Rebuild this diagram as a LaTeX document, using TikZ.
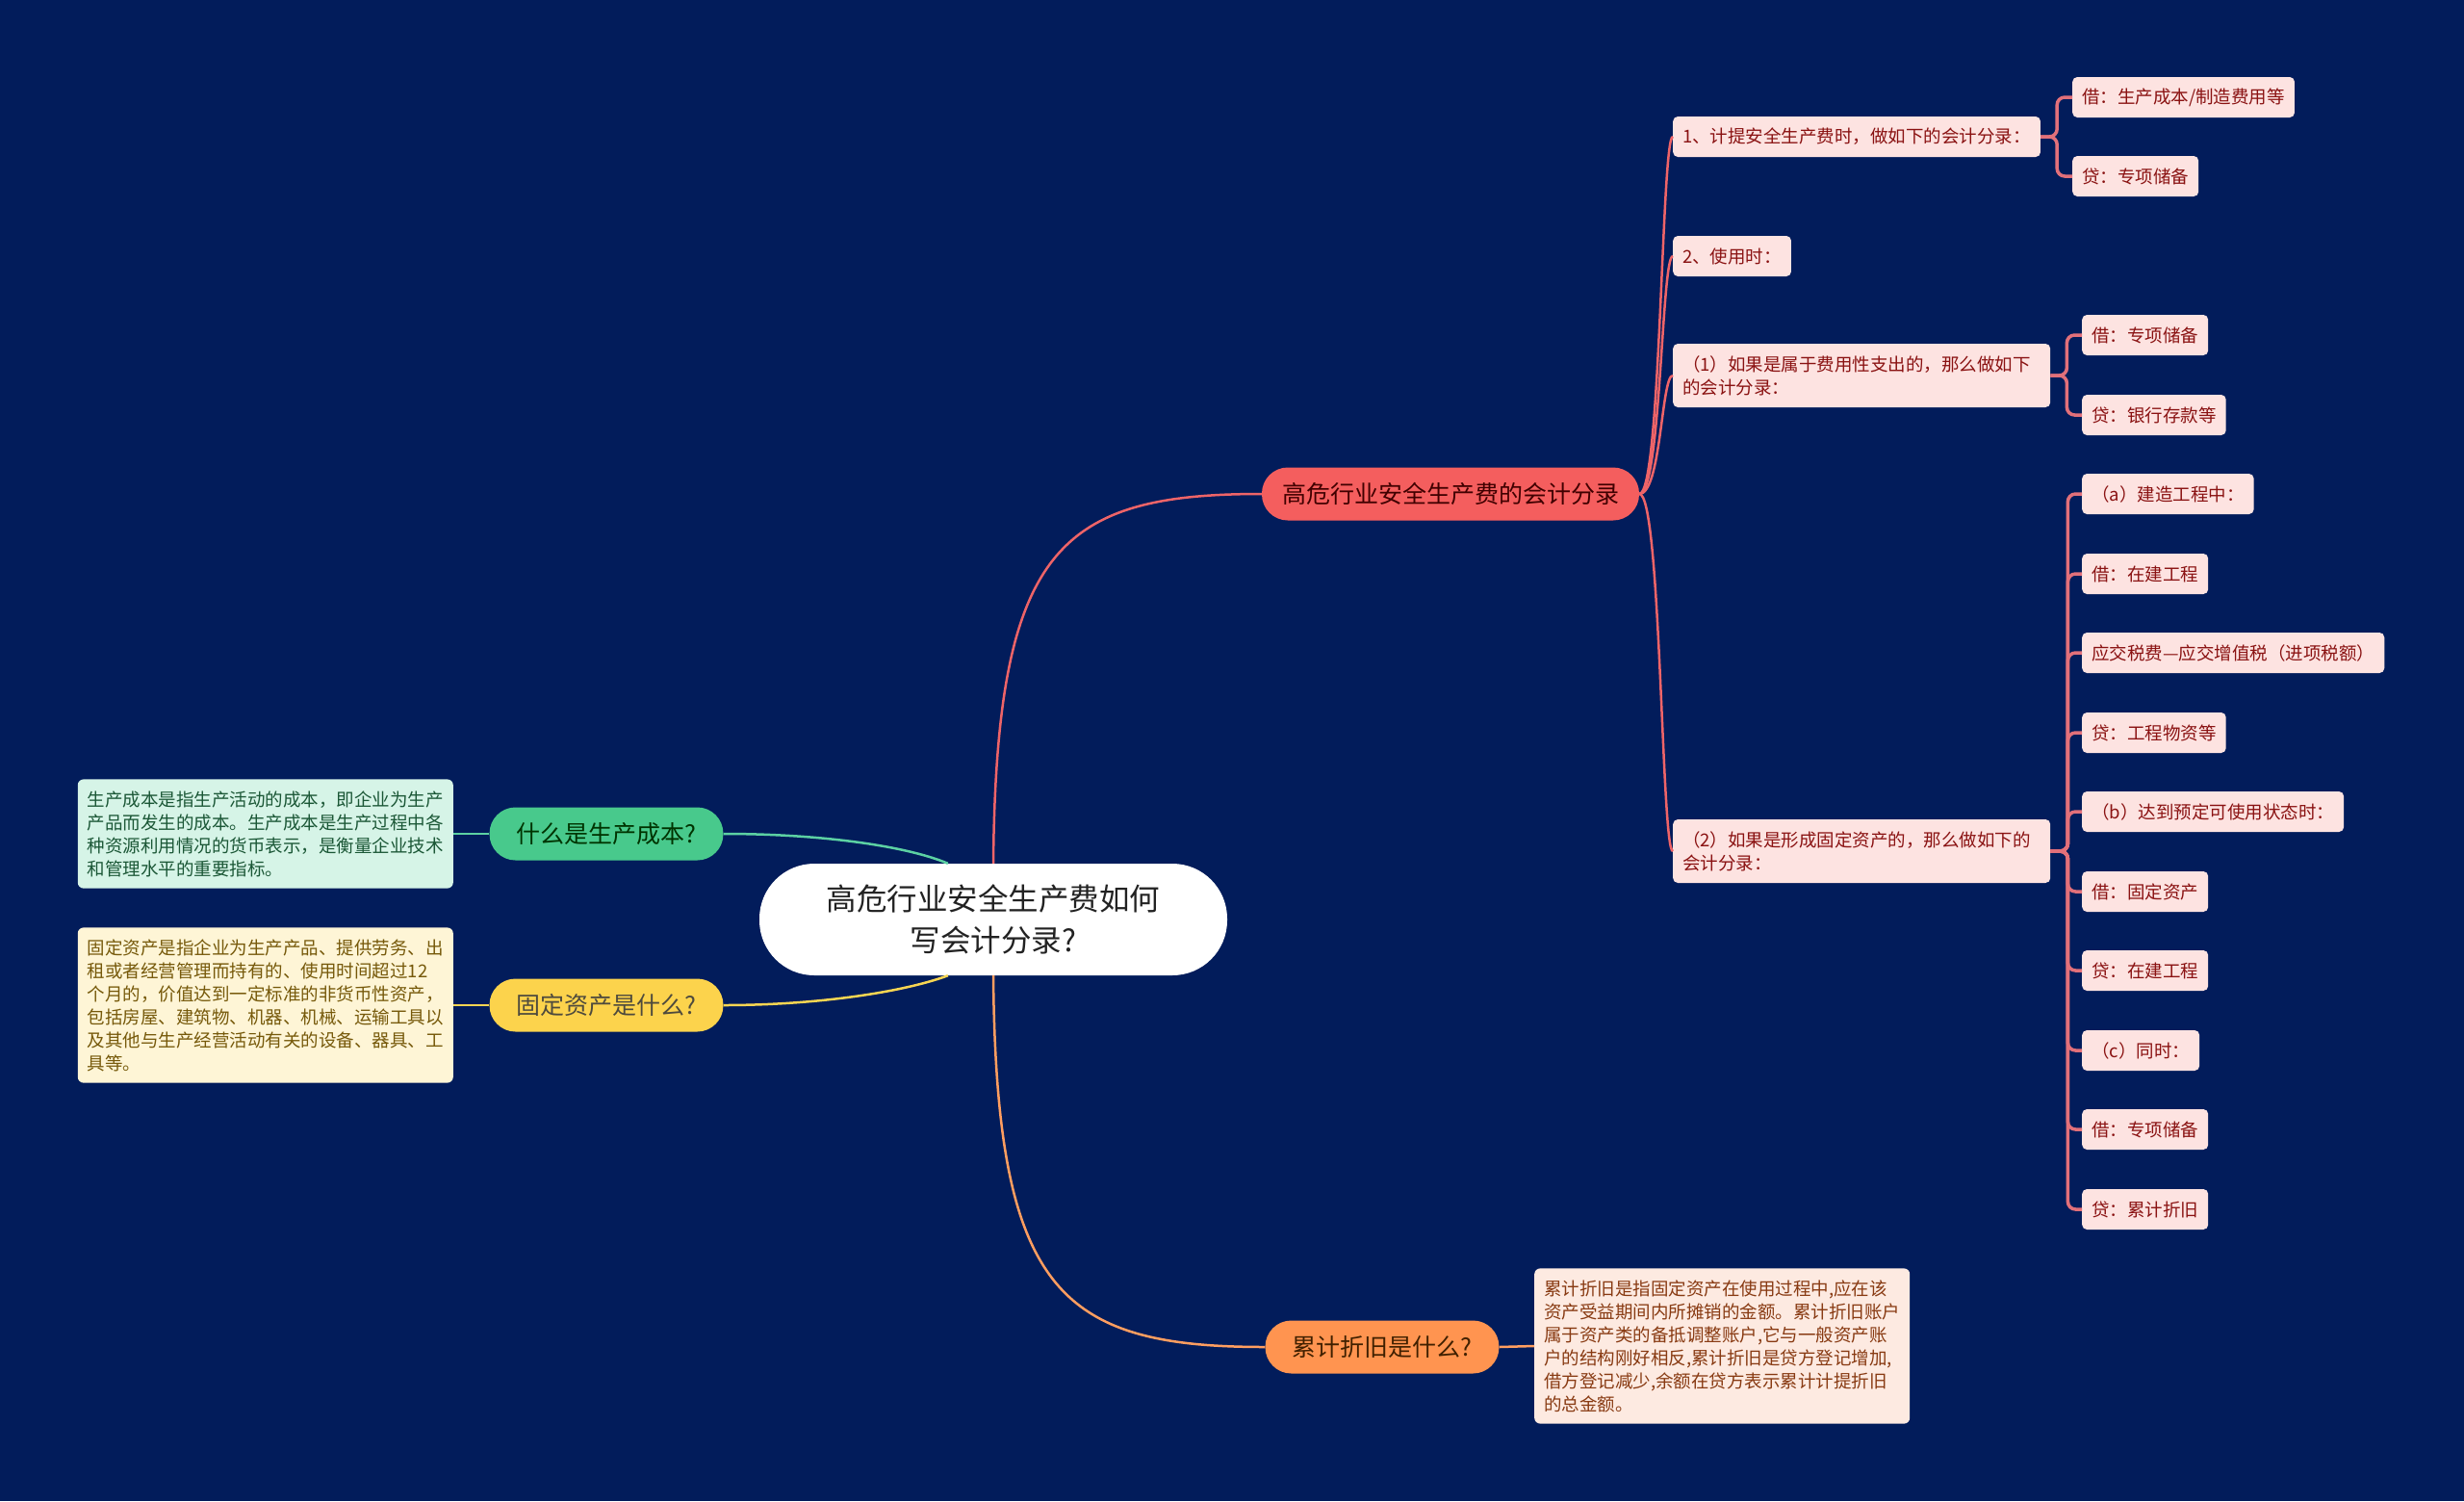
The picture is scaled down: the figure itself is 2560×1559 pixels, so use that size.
\documentclass[tikz,border=0pt]{standalone}
\usepackage{fontspec}
\setmainfont{Noto Sans CJK SC}
\usepackage{xcolor}
\usetikzlibrary{positioning}
\definecolor{bg}{HTML}{021C5B}
\definecolor{rootink}{HTML}{222222}
\definecolor{redtopic}{HTML}{F45E5E}
\definecolor{greentopic}{HTML}{48C98C}
\definecolor{yellowtopic}{HTML}{FCD34C}
\definecolor{orangetopic}{HTML}{FF9450}
\definecolor{redline}{HTML}{EE6468}
\definecolor{greenline}{HTML}{5CD1A3}
\definecolor{yellowline}{HTML}{F7D552}
\definecolor{orangeline}{HTML}{FF9E60}
\definecolor{twigline}{HTML}{E2707A}
\definecolor{pinkfill}{HTML}{FDE3E1}
\definecolor{pinkink}{HTML}{8A1212}
\definecolor{mintfill}{HTML}{D6F4E7}
\definecolor{mintink}{HTML}{1B5736}
\definecolor{creamfill}{HTML}{FEF5D6}
\definecolor{creamink}{HTML}{76590A}
\definecolor{peachfill}{HTML}{FDEAE1}
\definecolor{peachink}{HTML}{883A12}

\begin{document}
\begin{tikzpicture}[x=1pt, y=-1pt,
  rootnode/.style={fill=white, text=rootink, rounded corners=57pt, minimum width=486pt, minimum height=116pt, align=center, font=\fontsize{31.5}{43}\selectfont},
  topic/.style={rounded corners=27pt, minimum height=55pt, inner xsep=28pt, inner ysep=0pt, font=\fontsize{25}{30}\selectfont},
  pinkbox/.style={fill=pinkfill, text=pinkink, rounded corners=5pt, inner xsep=10pt, inner ysep=0pt, minimum height=42pt, align=left, font=\fontsize{18.5}{24}\selectfont},
  note/.style={rounded corners=6pt, inner xsep=10pt, inner ysep=12pt, align=left, font=\fontsize{18.5}{24}\selectfont},
  spine/.style={line width=2.5pt, draw=redline},
  twig/.style={line width=3.5pt, draw=twigline, rounded corners=8pt}]
\useasboundingbox (0,0) rectangle (2560,1559);
\fill[bg] (0,0) rectangle (2560,1559);
% centre and main topics
\node[rootnode] (root) at (1032,955) {高危行业安全生产费如何\\写会计分录?};
\node[topic, fill=redtopic, text=black!75!red, inner xsep=21pt] (acct) at (1507,513) {高危行业安全生产费的会计分录};
\node[topic, fill=greentopic, text=black!80!green] (cost) at (630,866) {什么是生产成本?};
\node[topic, fill=yellowtopic, text=black!80!yellow] (asset) at (630,1044) {固定资产是什么?};
\node[topic, fill=orangetopic, text=black!75!orange] (depr) at (1436,1399) {累计折旧是什么?};
\draw[line width=2.5pt, redline] (root.north) .. controls (1035,570) and (1100,513) .. (acct.west);
\draw[line width=2.5pt, orangeline] (root.south) .. controls (1035,1340) and (1100,1399) .. (depr.west);
\draw[line width=2.5pt, greenline] (cost.east) .. controls (850,866) and (940,878) .. (root.129);
\draw[line width=2.5pt, yellowline] (asset.east) .. controls (850,1044) and (940,1030) .. (root.231);
% notes on the left and below
\node[note, fill=mintfill, text=mintink, anchor=east] (costnote) at (471,866) {生产成本是指生产活动的成本，即企业为生产\\产品而发生的成本。生产成本是生产过程中各\\种资源利用情况的货币表示，是衡量企业技术\\和管理水平的重要指标。};
\node[note, fill=creamfill, text=creamink, anchor=east] (assetnote) at (471,1044) {固定资产是指企业为生产产品、提供劳务、出\\租或者经营管理而持有的、使用时间超过12\\个月的，价值达到一定标准的非货币性资产，\\包括房屋、建筑物、机器、机械、运输工具以\\及其他与生产经营活动有关的设备、器具、工\\具等。};
\node[note, fill=peachfill, text=peachink, anchor=west] (deprnote) at (1594,1398) {累计折旧是指固定资产在使用过程中,应在该\\资产受益期间内所摊销的金额。累计折旧账户\\属于资产类的备抵调整账户,它与一般资产账\\户的结构刚好相反,累计折旧是贷方登记增加,\\借方登记减少,余额在贷方表示累计计提折旧\\的总金额。};
\draw[line width=2.5pt, greenline] (cost.west) -- (costnote.east);
\draw[line width=2.5pt, yellowline] (asset.west) -- (assetnote.east);
\draw[line width=2.5pt, orangeline] (depr.east) -- (deprnote.west);
% entries under the red topic
\node[pinkbox, anchor=west] (s1) at (1738,142) {1、计提安全生产费时，做如下的会计分录：};
\node[pinkbox, anchor=west] (s2) at (1738,266) {2、使用时：};
\node[pinkbox, anchor=west, text width=372pt, minimum height=66pt] (s3) at (1738,390) {（1）如果是属于费用性支出的，那么做如下\\的会计分录：};
\node[pinkbox, anchor=west, text width=372pt, minimum height=66pt] (s4) at (1738,884) {（2）如果是形成固定资产的，那么做如下的\\会计分录：};
\foreach \s in {s1,s2,s3,s4}
  \draw[spine] (acct.east) .. controls (1726,513) and ([xshift=-12pt]\s.west) .. (\s.west);
% debit and credit lines
\node[pinkbox, anchor=west] (s1a) at (2153,101) {借：生产成本/制造费用等};
\node[pinkbox, anchor=west] (s1b) at (2153,183) {贷：专项储备};
\node[pinkbox, anchor=west] (s3a) at (2163,348) {借：专项储备};
\node[pinkbox, anchor=west] (s3b) at (2163,431) {贷：银行存款等};
\node[pinkbox, anchor=west] (s4a) at (2163,513) {（a）建造工程中：};
\node[pinkbox, anchor=west] (s4b) at (2163,596) {借：在建工程};
\node[pinkbox, anchor=west] (s4c) at (2163,678) {应交税费—应交增值税（进项税额）};
\node[pinkbox, anchor=west] (s4d) at (2163,761) {贷：工程物资等};
\node[pinkbox, anchor=west] (s4e) at (2163,843) {（b）达到预定可使用状态时：};
\node[pinkbox, anchor=west] (s4f) at (2163,926) {借：固定资产};
\node[pinkbox, anchor=west] (s4g) at (2163,1008) {贷：在建工程};
\node[pinkbox, anchor=west] (s4h) at (2163,1091) {（c）同时：};
\node[pinkbox, anchor=west] (s4i) at (2163,1173) {借：专项储备};
\node[pinkbox, anchor=west] (s4j) at (2163,1256) {贷：累计折旧};
\foreach \g in {s1a,s1b}
  \draw[twig] (s1.east) -- ++(17,0) |- (\g.west);
\foreach \g in {s3a,s3b}
  \draw[twig] (s3.east) -- ++(17,0) |- (\g.west);
\foreach \g in {s4a,s4b,s4c,s4d,s4e,s4f,s4g,s4h,s4i,s4j}
  \draw[twig] (s4.east) -- ++(18,0) |- (\g.west);
\end{tikzpicture}
\end{document}
